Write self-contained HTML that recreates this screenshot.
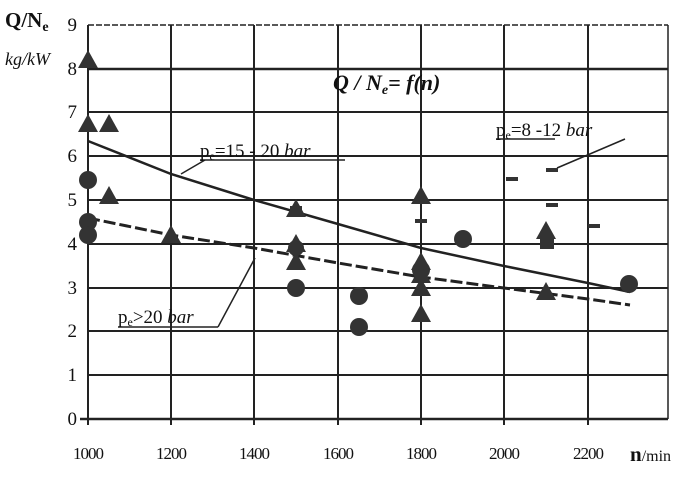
<!DOCTYPE html>
<html><head><meta charset="utf-8"><style>body{margin:0;background:#fff}svg{display:block}</style></head><body>
<svg width="699" height="484" viewBox="0 0 699 484" xmlns="http://www.w3.org/2000/svg" font-family="Liberation Serif, serif">
<rect width="699" height="484" fill="#fff"/>
<g stroke="#222" stroke-width="2">
<line x1="88" y1="25" x2="668" y2="25" stroke-dasharray="6,2" stroke-width="1.5"/>
<line x1="88" y1="69" x2="668" y2="69" stroke-width="2.5"/>
<line x1="88" y1="112" x2="668" y2="112"/>
<line x1="88" y1="156" x2="668" y2="156"/>
<line x1="88" y1="200" x2="668" y2="200"/>
<line x1="88" y1="244" x2="668" y2="244"/>
<line x1="88" y1="288" x2="668" y2="288"/>
<line x1="88" y1="331" x2="668" y2="331"/>
<line x1="88" y1="375" x2="668" y2="375"/>
<line x1="80" y1="419" x2="668" y2="419" stroke-width="2.5"/>
<line x1="88" y1="25" x2="88" y2="425"/>
<line x1="171" y1="25" x2="171" y2="425"/>
<line x1="254" y1="25" x2="254" y2="425"/>
<line x1="338" y1="25" x2="338" y2="425"/>
<line x1="421" y1="25" x2="421" y2="425"/>
<line x1="504" y1="25" x2="504" y2="425"/>
<line x1="588" y1="25" x2="588" y2="425"/>
<line x1="668" y1="25" x2="668" y2="419" stroke-width="1.5"/>
</g>
<g font-size="19" fill="#111" text-anchor="end">
<text x="77" y="31">9</text><text x="77" y="75">8</text><text x="77" y="118">7</text><text x="77" y="162">6</text><text x="77" y="206">5</text><text x="77" y="250">4</text><text x="77" y="294">3</text><text x="77" y="337">2</text><text x="77" y="381">1</text><text x="77" y="425">0</text>
</g>
<g font-size="17" fill="#111" text-anchor="middle" letter-spacing="-1">
<text x="88" y="459">1000</text><text x="171" y="459">1200</text><text x="254" y="459">1400</text><text x="338" y="459">1600</text><text x="421" y="459">1800</text><text x="504" y="459">2000</text><text x="588" y="459">2200</text>
</g>
<text x="630" y="461" font-size="16" fill="#111"><tspan font-weight="bold" font-size="21">n</tspan>/min</text>
<text x="5" y="27" font-size="21" font-weight="bold" fill="#111">Q/N<tspan font-size="14" dy="4">e</tspan></text>
<text x="5" y="65" font-size="18" font-style="italic" fill="#111">kg/kW</text>
<text x="333" y="90" font-size="22" font-weight="bold" font-style="italic" fill="#111">Q / N<tspan font-size="14" dy="4">e</tspan><tspan dy="-4">= f(n)</tspan></text>
<g fill="none" stroke="#222">
<polyline points="88,141 171,174 254,200 338,224 421,248 504,266 588,283 630,292" stroke-width="2.5"/>
<polyline points="88,218 171,235 254,248 338,263 421,277 504,288 588,299 630,305" stroke-width="3" stroke-dasharray="12,4"/>
<line x1="181" y1="174" x2="205" y2="160" stroke-width="1.5"/>
<line x1="200" y1="160" x2="345" y2="160" stroke-width="1.5"/>
<line x1="496" y1="139" x2="555" y2="139" stroke-width="1.5"/>
<line x1="625" y1="139" x2="557" y2="168" stroke-width="1.5"/>
<line x1="118" y1="327" x2="218" y2="327" stroke-width="1.5"/>
<line x1="218" y1="327" x2="255" y2="258" stroke-width="1.5"/>
</g>
<g font-size="19" fill="#111">
<text x="200" y="157">p<tspan font-size="12" dy="3">e</tspan><tspan dy="-3">=15 - 20 </tspan><tspan font-style="italic">bar</tspan></text>
<text x="496" y="136">p<tspan font-size="12" dy="3">e</tspan><tspan dy="-3">=8 -12 </tspan><tspan font-style="italic">bar</tspan></text>
<text x="118" y="323">p<tspan font-size="12" dy="3">e</tspan><tspan dy="-3">&gt;20 </tspan><tspan font-style="italic">bar</tspan></text>
</g>
<g fill="#333">
<circle cx="88" cy="180" r="9"/><circle cx="88" cy="222" r="9"/><circle cx="88" cy="235" r="9"/>
<circle cx="296" cy="288" r="9"/><circle cx="359" cy="296" r="9"/><circle cx="359" cy="327" r="9"/>
<circle cx="421" cy="270" r="9"/><circle cx="463" cy="239" r="9"/><circle cx="629" cy="284" r="9"/><circle cx="296" cy="248" r="8"/>
</g>
<g fill="#333">
<path d="M88,50 l-10,18 h20z"/>
<path d="M88,114 l-10,18 h20z"/><path d="M109,114 l-10,18 h20z"/><path d="M109,186 l-10,18 h20z"/>
<path d="M171,225 l-10,18 h20z"/><path d="M296,199 l-10,18 h20z"/><path d="M296,234 l-10,18 h20z"/><path d="M296,252 l-10,18 h20z"/>
<path d="M421,186 l-10,18 h20z"/><path d="M421,252 l-10,18 h20z"/><path d="M421,265 l-10,18 h20z"/><path d="M421,278 l-10,18 h20z"/><path d="M421,304 l-10,18 h20z"/>
<path d="M546,221 l-10,18 h20z"/><path d="M546,282 l-10,18 h20z"/>
<rect x="290" y="206" width="12" height="4"/><rect x="415" y="219" width="12" height="4"/><rect x="506" y="177" width="12" height="4"/>
<rect x="546" y="168" width="12" height="4"/><rect x="546" y="203" width="12" height="4"/><rect x="540" y="237" width="14" height="12"/><rect x="588" y="224" width="12" height="4"/>
</g>
</svg>
</body></html>
